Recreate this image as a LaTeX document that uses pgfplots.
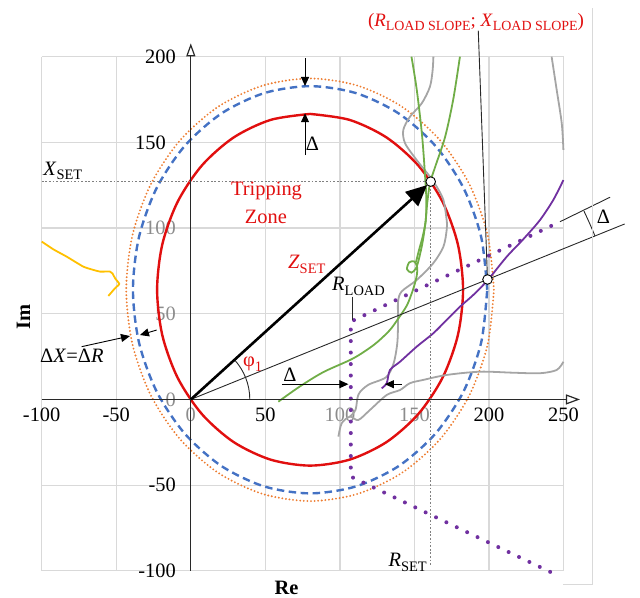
\documentclass[border=0pt]{standalone}
\usepackage{fontspec}
\setmainfont{Liberation Serif}
\usepackage{pgfplots}
\pgfplotsset{compat=1.18}
\usetikzlibrary{arrows.meta}
\definecolor{redc}{RGB}{225,15,15}
\definecolor{bluec}{RGB}{68,114,196}
\definecolor{orangec}{RGB}{237,125,49}
\definecolor{greenc}{RGB}{112,173,71}
\definecolor{grayc}{RGB}{165,165,165}
\definecolor{purpc}{RGB}{112,48,160}
\definecolor{goldc}{RGB}{255,192,0}
\definecolor{gridc}{RGB}{217,217,217}
\definecolor{fadec}{RGB}{140,140,140}
\definecolor{linec}{RGB}{40,40,40}
\newcommand{\sub}[1]{\raisebox{-0.22em}{\fontsize{14.5}{15}\selectfont #1}}
\newcommand{\subt}[1]{\raisebox{-0.22em}{\fontsize{14}{15}\selectfont #1}}
\begin{document}
\begin{tikzpicture}[font=\fontsize{20.5}{24}\selectfont]
\begin{axis}[
  scale only axis, width=521.9bp, height=514.2bp,
  xmin=-100, xmax=250, ymin=-100, ymax=200,
  clip=false,
  axis line style={draw=none},
  major tick length=0pt,
  xtick={-100,-50,0,50,100,150,200,250},
  ytick={-100,-50,0,50,100,150,200},
  xticklabels={-100,-50,\textcolor{fadec}{0},50,\textcolor{fadec}{100},\textcolor{fadec}{150},200,250},
  yticklabels={-100,-50,\textcolor{fadec}{0},\textcolor{fadec}{50},\textcolor{fadec}{100},{150\kern10bp},200},
  grid=major, grid style={draw=gridc, line width=1.2bp},
  tick label style={font=\fontsize{20.5}{24}\selectfont},
  xticklabel style={yshift=166.7bp},
  yticklabel style={xshift=137.6bp},
]
% orange dotted circle
\addplot[orangec, line width=2.1bp, line cap=round, dash pattern=on 0bp off 3.6bp, smooth] coordinates {
(203.3,64) (199.1,95.91) (186.78,125.65) (167.19,151.19) (141.65,170.78) (111.91,183.1) (80,187.3)
(48.09,183.1) (18.35,170.78) (-7.19,151.19) (-26.78,125.65) (-39.1,95.91) (-43.3,64)
(-39.1,32.09) (-26.78,2.35) (-7.19,-23.19) (18.35,-42.78) (48.09,-55.1) (80,-59.3)
(111.91,-55.1) (141.65,-42.78) (167.19,-23.19) (186.78,2.35) (199.1,32.09) (203.3,64)};
% blue dashed circle
\addplot[bluec, line width=2.4bp, dash pattern=on 7.5bp off 4.5bp, smooth] coordinates {
(198.8,64) (194.75,94.75) (182.88,123.4) (164.0,148.0) (139.4,166.88) (110.75,178.75) (80,182.8)
(49.25,178.75) (20.6,166.88) (-4.0,148.0) (-22.88,123.4) (-34.75,94.75) (-38.8,64)
(-34.75,33.25) (-22.88,4.6) (-4.0,-20.0) (20.6,-38.88) (49.25,-50.75) (80,-54.8)
(110.75,-50.75) (139.4,-38.88) (164.0,-20.0) (182.88,4.6) (194.75,33.25) (198.8,64)};
% red circle
\addplot[redc, line width=2.4bp, smooth] coordinates {
(80,166.6) (53.45,163.1) (28.7,152.85) (7.45,136.55) (-8.85,115.3) (-19.1,90.55) (-22.6,64)
(-19.1,37.45) (-8.85,12.7) (7.45,-8.55) (28.7,-24.85) (53.45,-35.1) (80,-38.6)
(106.55,-35.1) (131.3,-24.85) (152.55,-8.55) (168.85,12.7) (179.1,37.45) (182.6,64)
(179.1,90.55) (168.85,115.3) (152.55,136.55) (131.3,152.85) (106.55,163.1) (80,166.6)};
% gold curve
\addplot[goldc, line width=1.8bp, smooth, tension=0.3] coordinates {
(-100,92.1) (-92,87.5) (-83.2,83.3) (-72.1,77.5) (-65,75.5) (-60.9,74.6) (-54.2,74.6)
(-52.5,73.5) (-50.8,70.7) (-48,67.4) (-50.8,64.9) (-55.3,60.4)};
% gray curves
\addplot[grayc, line width=1.8bp, smooth] coordinates {
(99,-21.7) (101.2,-13.9) (106.8,-10) (112.3,-12) (120.2,-6.1) (131.4,2.6) (140.3,5.5)
(147,9.5) (155.9,11.4) (171.6,14.3) (194,16.2) (216.3,15.6) (234.2,15.3) (245.4,17.2) (249.9,22)};
\addplot[grayc, line width=1.8bp, smooth] coordinates {
(106.8,-10) (110.5,-6) (112.5,3) (119,8.5) (131,13) (136,21) (138.5,33) (139,46) (139,57)
(141.4,63) (151.5,69.7) (162.6,79.5) (169.4,89.1) (171.6,98.9) (171.6,104.7) (169.4,116.4)
(164.9,124.2) (160.4,130) (151.5,139.7) (143.7,149.5) (142.5,157.2) (147,165) (154.9,172.8)
(160.4,182.5) (162.2,192.2) (162.7,200)};
\addplot[grayc, line width=1.8bp, smooth] coordinates {
(242,200) (245.4,180.6) (248.8,161) (249.9,145.6)};
% green curves
\addplot[greenc, line width=1.8bp, smooth] coordinates {
(58.7,-1.3) (73,7.5) (89,16) (109,24) (123,32) (133,40) (139,47) (145,55) (149,64)
(151.5,72) (151.8,77) (150,80.5) (146.5,80) (145,76) (148,74) (151,76.5) (153,82)
(155.5,92) (157.5,104) (158.5,114) (160.4,126) (164,136) (170.5,153) (176,175) (180.5,200)};
\addplot[greenc, line width=1.8bp, smooth] coordinates {
(148,200) (151.5,181) (155,155) (157,132) (158,116) (157.5,104) (155.5,95) (153,87) (151,80)};
% purple solid
\addplot[purpc, line width=1.8bp, smooth] coordinates {
(128,6.5) (131.4,9.5) (133.6,17.2) (140.3,22) (151.5,30.8) (162.6,38.6) (171.6,46.4)
(180.5,54.1) (189.5,61) (199,69.5) (211.9,83.3) (223,93.5) (234.2,104.7) (243.1,116.4) (249.9,128)};
% purple dotted load blinder
\addplot[purpc, line width=4bp, line cap=round, dash pattern=on 0bp off 11.5bp] coordinates {
(241,-100.6) (107.3,-45) (107.3,45.4) (247.6,103.7)};
% helper lines
\draw[gray, line width=0.6bp, dash pattern=on 1.8bp off 1.8bp] (axis cs:-100,127.1) -- (axis cs:160.9,127.1);
\draw[gray, line width=0.6bp, dash pattern=on 1.8bp off 1.8bp] (axis cs:160.9,127.1) -- (axis cs:160.9,-97);
% axes
\draw[linec, line width=1.2bp, -{Triangle[open, length=14bp, width=10bp]}] (axis cs:-100,0) -- (axis cs:261,0);
\draw[linec, line width=1.2bp, -{Triangle[open, length=13bp, width=9bp]}] (axis cs:0,-100) -- (axis cs:0,207.8);
% thin lines
\draw[linec, line width=0.9bp] (axis cs:0,0) -- (axis cs:291,102.4);
\draw[linec, line width=0.9bp] (axis cs:247.6,103.7) -- (axis cs:281.2,118);
\draw[linec, line width=0.9bp] (axis cs:0,0) ++(22:436bp) arc[start angle=22, end angle=25.6, radius=436bp];
\draw[linec, line width=0.9bp] (axis cs:0,0) ++(0:59bp) arc[start angle=0, end angle=42.5, radius=59bp];
\draw[linec, line width=0.9bp] (axis cs:192.8,215.2) -- (axis cs:199,70);
\draw[linec, line width=0.9bp] (axis cs:108.3,60) -- (axis cs:108.3,46.6);
% Z_SET arrow
\draw[black, line width=2.6bp, -{Triangle[length=21bp, width=19bp]}] (axis cs:0,0) -- (axis cs:158.5,125.1);
% delta arrows
\draw[black, line width=0.9bp, -{Triangle[length=9bp, width=8bp]}] (axis cs:76.6,199) -- (axis cs:76.6,182.9);
\draw[black, line width=0.9bp, -{Triangle[length=9bp, width=8bp]}] (axis cs:76.6,142.6) -- (axis cs:76.6,167);
\draw[black, line width=0.9bp, -{Triangle[length=9bp, width=8bp]}] (axis cs:61,8.9) -- (axis cs:105.7,8.9);
\draw[black, line width=0.9bp, -{Triangle[length=9bp, width=8bp]}] (axis cs:141.5,8.9) -- (axis cs:130.2,8.9);
\draw[black, line width=0.9bp, -{Triangle[length=9bp, width=8bp]}] (axis cs:-73.2,30.8) -- (axis cs:-40.8,37);
\draw[black, line width=0.9bp, -{Triangle[length=9bp, width=8bp]}] (axis cs:-22.9,40.5) -- (axis cs:-34.1,37.6);
% markers
\addplot[only marks, mark=*, mark size=4.8bp, mark options={fill=white, draw=black, line width=0.9bp}] coordinates {(160.9,127.1) (199,70)};
% chart area border
\draw[gridc, line width=1bp] (axis cs:269.5,228.4) -- (axis cs:269.5,-108.2) -- (axis cs:249.6,-108.2);
% texts
\node[anchor=base west, inner sep=0] at (axis cs:-99,130.8) {\textit{X}\sub{SET}};
\node[redc, anchor=base, inner sep=0] at (axis cs:50.8,119) {Tripping};
\node[redc, anchor=base, inner sep=0] at (axis cs:50.4,102.6) {Zone};
\node[redc, anchor=base west, inner sep=0] at (axis cs:65.2,76.4) {\textit{Z}\sub{SET}};
\node[anchor=base west, inner sep=0] at (axis cs:94.7,63.5) {\textit{R}\sub{LOAD}};
\node[redc, anchor=base west, inner sep=0] at (axis cs:35,19) {φ\sub{1}};
\node[anchor=base west, inner sep=0] at (axis cs:77,145.2) {Δ};
\node[anchor=base west, inner sep=0] at (axis cs:62,10.4) {Δ};
\node[anchor=base west, inner sep=0] at (axis cs:272.2,102.8) {Δ};
\node[anchor=base west, inner sep=0] at (axis cs:-101.2,21.3) {Δ\textit{X}=Δ\textit{R}};
\node[anchor=base west, inner sep=0] at (axis cs:132.5,-97.5) {\textit{R}\sub{SET}};
\node[inner sep=0] at (axis cs:64.2,-110) {\textbf{Re}};
\node[inner sep=0, rotate=90] at (axis cs:-112.3,48.3) {\textbf{Im}};
\node[redc, anchor=base, inner sep=0, font=\fontsize{19}{22}\selectfont] at (axis cs:191.3,217.9) {(\textit{R}\subt{LOAD SLOPE}; \textit{X}\subt{LOAD SLOPE})};
% bounding box
\path (axis cs:-127.97,-115.81) rectangle (axis cs:301.27,233.08);
\end{axis}
\end{tikzpicture}
\end{document}
